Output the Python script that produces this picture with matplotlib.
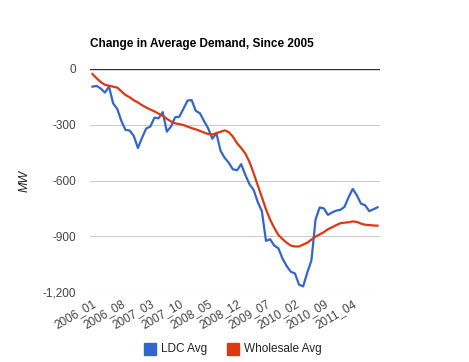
import matplotlib
matplotlib.use("Agg")
import matplotlib.pyplot as plt
from matplotlib.patches import Rectangle

plt.rcParams['font.family'] = ['Liberation Sans', 'DejaVu Sans']

# monthly categories 2006_01 .. 2011_10
months = ["%d_%02d" % (2006 + i // 12, i % 12 + 1) for i in range(70)]

ldc_avg = [-95, -91, -105, -127, -95, -185, -215, -280, -328, -331,
           -360, -425, -370, -320, -310, -262, -265, -232, -337, -310,
           -260, -257, -215, -170, -167, -225, -238, -280, -319, -375,
           -346, -440, -478, -505, -540, -545, -512, -570, -620, -650,
           -715, -765, -925, -916, -950, -965, -1020, -1060, -1091, -1100,
           -1160, -1170, -1095, -1030, -810, -745, -750, -785, -772, -762,
           -758, -742, -690, -645, -680, -725, -733, -765, -755, -744]

wholesale_avg = [-27, -50, -70, -85, -90, -95, -100, -120, -140, -152,
                 -168, -180, -195, -207, -218, -228, -240, -252, -268, -282,
                 -292, -297, -301, -310, -318, -325, -333, -342, -350, -352,
                 -345, -338, -330, -340, -364, -400, -425, -455, -500, -560,
                 -625, -690, -755, -810, -855, -893, -915, -935, -950, -955,
                 -955, -945, -935, -918, -902, -890, -878, -862, -852, -840,
                 -830, -827, -825, -820, -823, -832, -838, -840, -842, -843]

series_names = ["LDC Avg", "Wholesale Avg"]
colors = ["#3366cc", "#dc3912"]

fig = plt.figure(figsize=(4.69, 3.62), dpi=100)
ax = fig.add_axes([90 / 469, 70 / 362, 290 / 469, 223 / 362])

x = range(len(months))
ax.plot(x, ldc_avg, color=colors[0], lw=1.6, zorder=3, solid_joinstyle='round')
ax.plot(x, wholesale_avg, color=colors[1], lw=1.6, zorder=3, solid_joinstyle='round')

ax.set_xlim(-0.6, 69.6)
ax.set_ylim(-1200, 0)
ax.set_yticks([0, -300, -600, -900, -1200])
ax.set_yticklabels(["0", "-300", "-600", "-900", "-1,200"])
ax.grid(axis='y', color='#cccccc', lw=0.8)
ax.axhline(0, color='#333333', lw=1, zorder=4)
for s in ax.spines.values():
    s.set_visible(False)
ax.tick_params(axis='both', length=0, labelsize=8.5, colors='#444444')
ax.tick_params(axis='y', pad=10)
ax.tick_params(axis='x', pad=4)

tick_idx = list(range(0, len(months), 7))
ax.set_xticks(tick_idx)
ax.set_xticklabels([months[i] for i in tick_idx], rotation=30, ha='right',
                   va='top', rotation_mode='anchor')

ax.set_ylabel("MW", fontstyle='italic', fontsize=9, color='#222222', labelpad=9)

fig.text(90 / 469, 1 - 44 / 362, "Change in Average Demand, Since 2005",
         fontsize=8.5, fontweight='bold', va='center', ha='left')

# legend at bottom
leg_y = 1 - 349 / 362
for name, c, lx in zip(series_names, colors, [144, 227]):
    fig.patches.append(Rectangle((lx / 469, leg_y - 6 / 362), 12 / 469, 12 / 362,
                                 color=c, transform=fig.transFigure, figure=fig))
    fig.text((lx + 17) / 469, leg_y, name, fontsize=8.5, color='#222222',
             va='center', ha='left')

plt.savefig("out.png", dpi=100)
